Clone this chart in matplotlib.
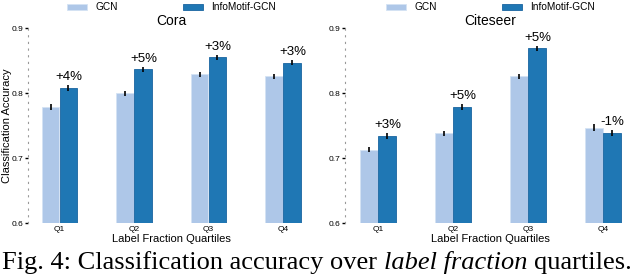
import numpy as np
import matplotlib.pyplot as plt

plt.rcParams['font.family'] = ['Liberation Sans', 'DejaVu Sans']

quartiles = ["Q1", "Q2", "Q3", "Q4"]

cora_gcn = [0.779, 0.800, 0.829, 0.826]
cora_info = [0.808, 0.837, 0.855, 0.847]
cora_gcn_err = [0.005, 0.004, 0.004, 0.004]
cora_info_err = [0.004, 0.004, 0.004, 0.004]
cora_gain = ["+4%", "+5%", "+3%", "+3%"]

cite_gcn = [0.713, 0.738, 0.826, 0.747]
cite_info = [0.734, 0.779, 0.869, 0.739]
cite_gcn_err = [0.004, 0.004, 0.004, 0.005]
cite_info_err = [0.004, 0.005, 0.004, 0.005]
cite_gain = ["+3%", "+5%", "+5%", "-1%"]

light = "#aec7e8"
dark = "#1f77b4"

fig = plt.figure(figsize=(6.4, 2.74), dpi=100)
ax1 = fig.add_axes([0.044, 0.186, 0.447, 0.711])
ax2 = fig.add_axes([0.539, 0.186, 0.455, 0.711])


def draw(ax, name, gcn, info, gcn_err, info_err, gain, xlim):
    x = np.arange(len(quartiles))
    w = 0.235
    ax.bar(x - 0.12, gcn, w, color=light, edgecolor="#d4e3f3", linewidth=0.6,
           yerr=gcn_err, error_kw=dict(ecolor="black", elinewidth=1.2, capsize=0),
           label="GCN")
    ax.bar(x + 0.12, info, w, color=dark, edgecolor="#1a65a0", linewidth=0.6,
           yerr=info_err, error_kw=dict(ecolor="black", elinewidth=1.2, capsize=0),
           label="InfoMotif-GCN")
    for i in range(len(x)):
        ax.text(x[i] + 0.13, info[i] + info_err[i] + 0.003, gain[i],
                ha="center", va="bottom", fontsize=9.5)
    ax.set_ylim(0.6, 0.9)
    ax.set_xlim(*xlim)
    ax.set_yticks([0.6, 0.7, 0.8, 0.9])
    ax.set_yticklabels(["0.6", "0.7", "0.8", "0.9"])
    ax.set_xticks(x)
    ax.set_xticklabels(quartiles)
    ax.tick_params(axis="y", labelsize=6, length=2.5, width=1, pad=1)
    ax.tick_params(axis="x", labelsize=6, length=0, pad=2)
    for s in ["top", "right", "bottom"]:
        ax.spines[s].set_visible(False)
    ax.spines["left"].set_linestyle((0, (1, 5)))
    ax.spines["left"].set_color("#999999")
    ax.spines["left"].set_linewidth(0.8)
    ax.set_title(name, fontsize=10, pad=2)
    ax.set_xlabel("Label Fraction Quartiles", fontsize=8, labelpad=1)
    ax.legend(loc="lower center", bbox_to_anchor=(0.5, 1.06), ncol=2,
              frameon=False, fontsize=7.3, handlelength=2.0, handleheight=0.6,
              handletextpad=0.8, columnspacing=6.4, borderaxespad=0)


draw(ax1, "Cora", cora_gcn, cora_info, cora_gcn_err, cora_info_err, cora_gain, (-0.42, 3.42))
draw(ax2, "Citeseer", cite_gcn, cite_info, cite_gcn_err, cite_info_err, cite_gain, (-0.445, 3.445))
ax1.set_ylabel("Classification Accuracy", fontsize=8)
ax1.yaxis.set_label_coords(-0.056, 0.5)

serif = "Liberation Serif"
t1 = fig.text(0.003, 0.0, "Fig. 4: Classification accuracy over", family=serif,
              fontsize=19, va="bottom", ha="left")
t2 = ax1.annotate("label fraction", xy=(1, 0), xycoords=t1, xytext=(4.8, 0),
                  textcoords="offset points", family=serif, style="italic",
                  fontsize=19, va="bottom", ha="left", annotation_clip=False)
t3 = ax1.annotate("quartiles.", xy=(1, 0), xycoords=t2, xytext=(4.8, 0),
                  textcoords="offset points", family=serif,
                  fontsize=19, va="bottom", ha="left", annotation_clip=False)

fig.savefig("out.png", dpi=100)
